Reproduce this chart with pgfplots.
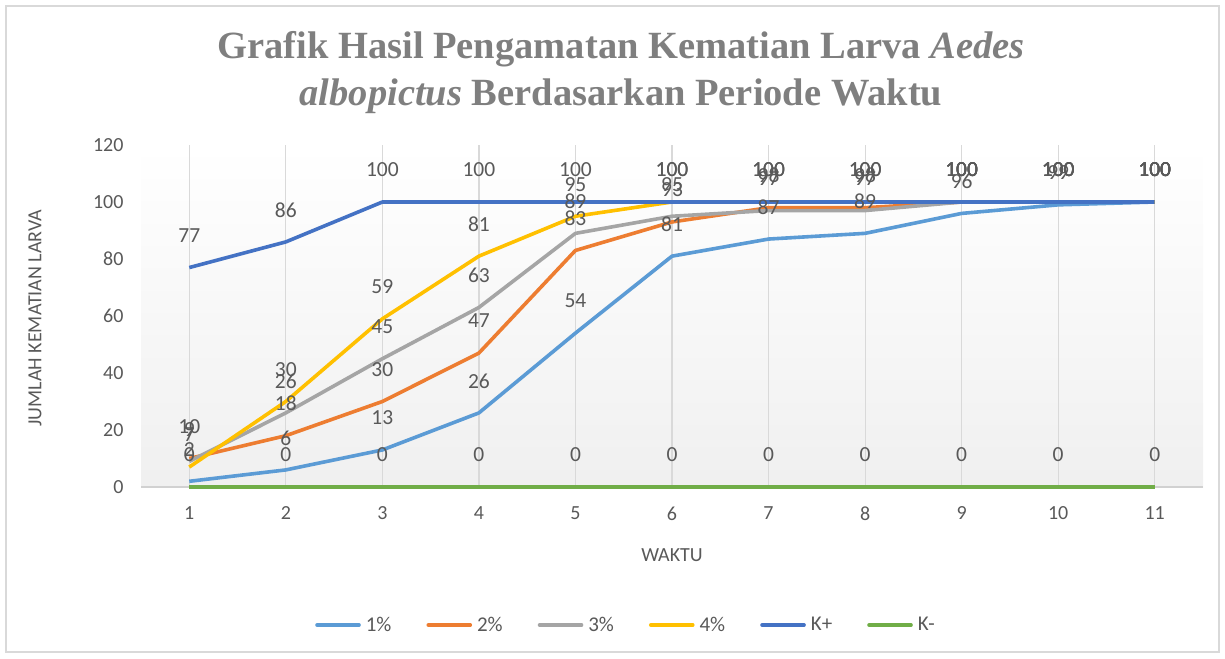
\documentclass[border=0pt]{standalone}
\usepackage{fontspec}
\setmainfont{Carlito}
\newfontfamily\titlefont{Liberation Serif}
\usepackage{pgfplots}
\pgfplotsset{compat=1.18}
\definecolor{cA}{HTML}{5B9BD5}
\definecolor{cB}{HTML}{ED7D31}
\definecolor{cC}{HTML}{A5A5A5}
\definecolor{cD}{HTML}{FFC000}
\definecolor{cE}{HTML}{4472C4}
\definecolor{cF}{HTML}{70AD47}
\definecolor{txt}{HTML}{595959}
\definecolor{ttl}{HTML}{7F7F7F}
\begin{document}
\begin{tikzpicture}[x=1pt,y=1pt]
\path[use as bounding box] (0,0) rectangle (1225,-658);
\draw[black!15, line width=1.2pt] (6,-6) rectangle (1219,-652);
\node[align=center, text=ttl, font=\titlefont\bfseries\fontsize{38.5}{47}\selectfont] at (621,-73)
  {Grafik Hasil Pengamatan Kematian Larva \textit{Aedes}\\\textit{albopictus} Berdasarkan Periode Waktu};
\node[rotate=90, text=txt, font=\fontsize{20}{24}\selectfont] at (35,-318) {JUMLAH KEMATIAN LARVA};
\node[text=txt, font=\fontsize{20}{24}\selectfont] at (672,-555) {WAKTU};
\begin{axis}[
  at={(141pt,-487pt)}, anchor=south west,
  scale only axis, width=1062pt, height=342pt,
  xmin=0.5, xmax=11.5, ymin=0, ymax=120,
  xtick={1,...,11}, ytick={0,20,...,120},
  axis x line*=bottom, axis y line*=left,
  y axis line style={draw=none},
  x axis line style={draw=black!18, line width=1.2pt},
  major tick length=0pt,
  xmajorgrids, grid style={black!15, line width=1.2pt},
  axis background/.style={top color=white, bottom color=black!6},
  /pgf/number format/assume math mode=true,
  tick label style={font=\fontsize{20}{24}\selectfont, text=txt},
  yticklabel style={xshift=-14pt},
  xticklabel style={yshift=-16pt},
  clip=false,
  nodes near coords,
  every node near coord/.append style={font=\fontsize{21.5}{24}\selectfont, text=txt, anchor=center, yshift=32pt},
  every axis plot/.append style={line width=3.6pt, line join=round, mark=none},
  legend style={at={(0.4567,-0.4035)}, anchor=center, draw=none, fill=none,
    font=\fontsize{21}{24}\selectfont, text=txt,
    /tikz/every odd column/.append style={column sep=3pt},
    /tikz/every even column/.append style={column sep=33pt}},
  legend columns=6,
  legend image code/.code={\draw[#1, line cap=round] (0pt,0pt) -- (42pt,0pt);},
]
\addplot[cA] coordinates {(1,2)(2,6)(3,13)(4,26)(5,54)(6,81)(7,87)(8,89)(9,96)(10,99)(11,100)};
\addplot[cB] coordinates {(1,10)(2,18)(3,30)(4,47)(5,83)(6,93)(7,98)(8,98)(9,100)(10,100)(11,100)};
\addplot[cC] coordinates {(1,9)(2,26)(3,45)(4,63)(5,89)(6,95)(7,97)(8,97)(9,100)(10,100)(11,100)};
\addplot[cD] coordinates {(1,7)(2,30)(3,59)(4,81)(5,95)(6,100)(7,100)(8,100)(9,100)(10,100)(11,100)};
\addplot[cE] coordinates {(1,77)(2,86)(3,100)(4,100)(5,100)(6,100)(7,100)(8,100)(9,100)(10,100)(11,100)};
\addplot[cF] coordinates {(1,0)(2,0)(3,0)(4,0)(5,0)(6,0)(7,0)(8,0)(9,0)(10,0)(11,0)};
\legend{1\%,2\%,3\%,4\%,K+,K-}
\end{axis}
\end{tikzpicture}
\end{document}
